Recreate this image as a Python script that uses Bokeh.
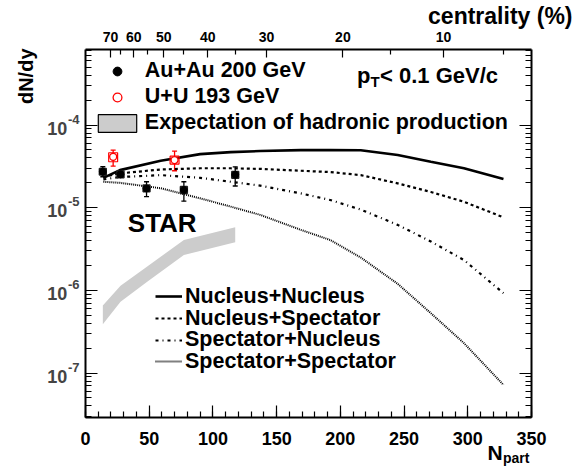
import math
from bokeh.plotting import figure
from bokeh.models import (Range1d, LinearAxis, LogAxis, LogTicker, FixedTicker,
                          SingleIntervalTicker, CustomJSTickFormatter, Label, Legend,
                          LegendItem, Whisker, TeeHead, ColumnDataSource)
from bokeh.embed import file_html
from bokeh.resources import INLINE

FONT = "Liberation Sans"

# ---------------- data ----------------
au_npart = [13.6, 27.5, 47.9, 77.2, 117.5]
au_y = [2.72e-5, 2.53e-5, 1.71e-5, 1.64e-5, 2.50e-5]
au_stat_hi = [3.13e-5, 2.75e-5, 2.06e-5, 2.06e-5, 3.12e-5]
au_stat_lo = [2.37e-5, 2.33e-5, 1.36e-5, 1.20e-5, 1.83e-5]
au_sys_hi = [2.99e-5, 2.78e-5, 1.88e-5, 1.80e-5, 2.75e-5]
au_sys_lo = [2.48e-5, 2.30e-5, 1.56e-5, 1.49e-5, 2.27e-5]

uu_npart = [21.7, 69.9]
uu_y = [4.13e-5, 3.77e-5]
uu_stat_hi = [4.98e-5, 4.84e-5]
uu_stat_lo = [3.19e-5, 2.80e-5]
uu_sys_hi = [4.62e-5, 4.20e-5]
uu_sys_lo = [3.60e-5, 3.37e-5]

band_npart = [13.6, 27.5, 47.9, 77.2, 117.5]
band_hi = [6.55e-7, 1.14e-6, 1.92e-6, 4.07e-6, 5.80e-6]
band_lo = [3.90e-7, 7.30e-7, 1.25e-6, 2.68e-6, 3.82e-6]

model_npart = [14, 27, 59, 90, 114, 137, 169, 192, 216, 245, 271, 297, 328]
nucl_nucl = [2.30e-5, 2.85e-5, 3.70e-5, 4.45e-5, 4.70e-5, 4.85e-5, 4.98e-5, 5.00e-5, 4.95e-5, 4.35e-5, 3.60e-5, 3.00e-5, 2.22e-5]
nucl_spec = [2.37e-5, 2.60e-5, 2.90e-5, 3.00e-5, 3.00e-5, 2.95e-5, 2.80e-5, 2.70e-5, 2.48e-5, 1.97e-5, 1.55e-5, 1.18e-5, 7.65e-6]
spec_nucl = [2.20e-5, 2.35e-5, 2.48e-5, 2.30e-5, 2.06e-5, 1.85e-5, 1.49e-5, 1.24e-5, 9.50e-6, 6.20e-6, 3.90e-6, 2.33e-6, 9.25e-7]
spec_spec = [2.06e-5, 2.00e-5, 1.72e-5, 1.30e-5, 1.03e-5, 8.20e-6, 5.40e-6, 4.07e-6, 2.50e-6, 1.20e-6, 5.30e-7, 2.30e-7, 7.20e-8]

cent_npart = [19.6, 37.9, 61.5, 96.0, 142.0, 202.0, 281.0]
cent_labels = ["70", "60", "50", "40", "30", "20", "10"]
cent_minor_npart = [27.5, 48.4, 77.2, 117.7, 239.4, 328.3]

ytick_vals = [1e-7, 1e-6, 1e-5, 1e-4]
ytick_exps = ["-7", "-6", "-5", "-4"]

# ---------------- geometry ----------------
W, H = 588, 466
AX_L, AX_R, AX_T, AX_B = 85, 531, 49, 417      # pixel box of the axes
X_MIN, X_MAX = 0.0, 350.0
Y_MIN, Y_MAX = 2.9e-8, 8.2e-4

px_per_x = (AX_R - AX_L) / (X_MAX - X_MIN)
x_start = X_MIN - AX_L / px_per_x
x_end = X_MAX + (W - AX_R) / px_per_x
dec_per_px = (math.log10(Y_MAX) - math.log10(Y_MIN)) / (AX_B - AX_T)
y_start = 10 ** (math.log10(Y_MIN) - (H - AX_B) * dec_per_px)
y_end = 10 ** (math.log10(Y_MAX) + AX_T * dec_per_px)

p = figure(width=W, height=H, min_border_left=0, min_border_right=0,
           min_border_top=0, min_border_bottom=0,
           x_range=Range1d(x_start, x_end), y_range=Range1d(y_start, y_end),
           y_axis_type="log", output_backend="svg", toolbar_location=None,
           background_fill_color="white", border_fill_color="white")
p.xgrid.visible = False
p.ygrid.visible = False
p.outline_line_color = None

def style_axis(ax, big=12, small=6):
    ax.major_tick_in = big
    ax.major_tick_out = 0
    ax.minor_tick_in = small
    ax.minor_tick_out = 0
    ax.axis_line_width = 2
    ax.major_tick_line_width = 1.2
    ax.minor_tick_line_width = 1.2
    ax.major_label_text_font = FONT
    ax.major_label_text_font_style = "bold"
    ax.major_label_text_color = "black"

xa = p.xaxis[0]
xa.ticker = SingleIntervalTicker(interval=50, num_minor_ticks=5)
xa.fixed_location = Y_MIN
xa.bounds = (X_MIN, X_MAX)
style_axis(xa)
xa.major_label_text_font_size = "18px"
xa.major_label_standoff = 14

ya = p.yaxis[0]
ya.ticker = LogTicker(desired_num_ticks=5, num_minor_ticks=10)
ya.formatter = CustomJSTickFormatter(code="return ''")
ya.fixed_location = X_MIN
ya.bounds = (Y_MIN, Y_MAX)
style_axis(ya)

ra = LogAxis(ticker=LogTicker(desired_num_ticks=5, num_minor_ticks=10),
             formatter=CustomJSTickFormatter(code="return ''"),
             fixed_location=X_MAX, bounds=(Y_MIN, Y_MAX))
style_axis(ra)
p.add_layout(ra, "right")

ta = LinearAxis(ticker=FixedTicker(ticks=cent_npart, minor_ticks=cent_minor_npart),
                major_label_overrides=dict(zip(cent_npart, cent_labels)),
                fixed_location=Y_MAX, bounds=(X_MIN, X_MAX))
style_axis(ta, big=8, small=5)
ta.major_label_text_font_size = "14px"
ta.major_label_standoff = 8
p.add_layout(ta, "above")

# ---------------- glyphs ----------------
p.varea(x=band_npart, y1=band_lo, y2=band_hi, fill_color="#cccccc")
# zero-size rects on the band: not visible, they give the legend its outlined box
band_leg = p.rect(x=band_npart, y=band_hi, width=0, height=0, width_units="screen",
                  height_units="screen", fill_color="#cccccc", line_color="black",
                  line_width=1.2)

r_nn = p.line(model_npart, nucl_nucl, line_color="black", line_width=2.6)
r_ns = p.line(model_npart, nucl_spec, line_color="black", line_width=2.2, line_dash="3 3")
r_sn = p.line(model_npart, spec_nucl, line_color="black", line_width=2.2, line_dash="3 4 1 4")
r_ss = p.line(model_npart, spec_spec, line_color="black", line_width=2.0, line_dash="1 1")

hw_au, hw_uu = 2.7, 3.5  # half widths of the systematic boxes, Npart units
p.quad(left=[v - hw_au for v in au_npart], right=[v + hw_au for v in au_npart],
       top=au_sys_hi, bottom=au_sys_lo, fill_alpha=0, line_color="#222222", line_width=1.5)
p.quad(left=[v - hw_uu for v in uu_npart], right=[v + hw_uu for v in uu_npart],
       top=uu_sys_hi, bottom=uu_sys_lo, fill_alpha=0, line_color="red", line_width=1.2)

au_src = ColumnDataSource(dict(x=au_npart, lo=au_stat_lo, hi=au_stat_hi))
uu_src = ColumnDataSource(dict(x=uu_npart, lo=uu_stat_lo, hi=uu_stat_hi))
for src, col in ((au_src, "black"), (uu_src, "red")):
    p.add_layout(Whisker(source=src, base="x", lower="lo", upper="hi",
                         line_color=col, line_width=1.3,
                         upper_head=TeeHead(size=5, line_color=col, line_width=1.3),
                         lower_head=TeeHead(size=5, line_color=col, line_width=1.3)))

au_dot = p.scatter(au_npart, au_y, marker="circle", size=7, color="black")
uu_circ = p.scatter(uu_npart, uu_y, marker="circle", size=7, fill_color="white",
                    line_color="red", line_width=1.3)

# ---------------- legends ----------------
common = dict(padding=0, margin=0, border_line_alpha=0, background_fill_alpha=0,
              label_text_font=FONT, label_text_font_style="bold",
              label_text_font_size="21.5px", label_text_color="black")
ROW = 24.5  # height of one legend row
leg1 = Legend(items=[LegendItem(label="Au+Au 200 GeV", renderers=[au_dot]),
                     LegendItem(label="U+U 193 GeV", renderers=[uu_circ]),
                     LegendItem(label="Expectation of hadronic production", renderers=[band_leg])],
              location=(92.8, H - (123 + ROW / 2)), spacing=1, glyph_width=48,
              glyph_height=22, label_height=22, label_standoff=4, **common)
p.add_layout(leg1)

for r, text, yc in ((r_nn, "Nucleus+Nucleus", 296.7), (r_ns, "Nucleus+Spectator", 318.3),
                    (r_sn, "Spectator+Nucleus", 339.9), (r_ss, "Spectator+Spectator", 361.7)):
    p.add_layout(Legend(items=[LegendItem(label=text, renderers=[r])],
                        location=(155, H - (yc + ROW / 2)), spacing=0, glyph_width=27,
                        glyph_height=24, label_height=24, label_standoff=3, **common))

# ---------------- texts ----------------
def lab(text, X, Y, size, align="left", angle=0.0, color="black"):
    # X, Y: pixel position (from top-left) of the text's vertical middle
    p.add_layout(Label(x=X, y=H - Y, x_units="screen", y_units="screen", text=text,
                       text_font=FONT, text_font_style="bold", text_font_size=f"{size}px",
                       text_align=align, text_baseline="middle", angle=angle,
                       text_color=color))

for v, e in zip(ytick_vals, ytick_exps):
    p.add_layout(Label(x=66.7, y=v, x_units="screen", y_units="data", text="10",
                       text_font=FONT, text_font_style="bold", text_font_size="18px",
                       text_align="right", text_baseline="middle", y_offset=-3))
    p.add_layout(Label(x=67.5, y=v, x_units="screen", y_units="data", text=e,
                       text_font=FONT, text_font_style="bold", text_font_size="13px",
                       text_align="left", text_baseline="middle", y_offset=6))

lab("dN/dy", 25.5, 48, 20, align="right", angle=math.pi / 2)
lab("centrality (%)", 572, 15, 23, align="right")
lab("N", 487, 452, 21)
lab("part", 502.5, 457, 14)
lab("STAR", 127.3, 222.5, 26)
lab("p", 356.5, 75, 22)
lab("T", 370, 81, 15)
lab(" < 0.1 GeV/c", 379.5, 75, 22)

open("out.html", "w").write(file_html(p, INLINE))
